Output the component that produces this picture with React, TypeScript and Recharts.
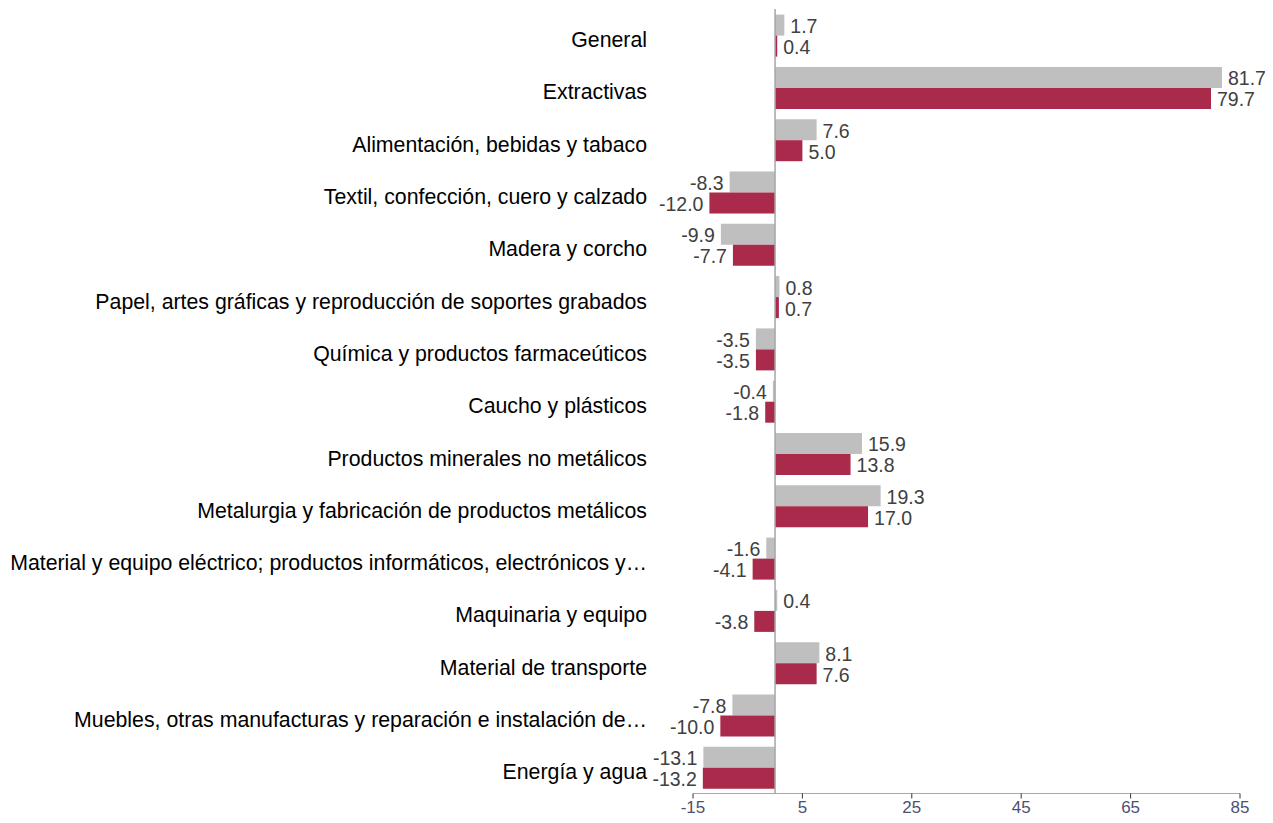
import React from "react";
import { BarChart, Bar, XAxis, YAxis, ReferenceLine, LabelList } from "recharts";

const categories = [
  "General",
  "Extractivas",
  "Alimentación, bebidas y tabaco",
  "Textil, confección, cuero y calzado",
  "Madera y corcho",
  "Papel, artes gráficas y reproducción de soportes grabados",
  "Química y productos farmaceúticos",
  "Caucho y plásticos",
  "Productos minerales no metálicos",
  "Metalurgia y fabricación de productos metálicos",
  "Material y equipo eléctrico; productos informáticos, electrónicos y…",
  "Maquinaria y equipo",
  "Material de transporte",
  "Muebles, otras manufacturas y reparación e instalación de…",
  "Energía y agua",
];

const seriesA = [1.7, 81.7, 7.6, -8.3, -9.9, 0.8, -3.5, -0.4, 15.9, 19.3, -1.6, 0.4, 8.1, -7.8, -13.1];
const seriesB = [0.4, 79.7, 5.0, -12.0, -7.7, 0.7, -3.5, -1.8, 13.8, 17.0, -4.1, -3.8, 7.6, -10.0, -13.2];

const xTicks = [-15, 5, 25, 45, 65, 85];

const data = categories.map((name, i) => ({ name, a: seriesA[i], b: seriesB[i] }));

const FONT = "'Liberation Sans', Arial, sans-serif";

const CategoryTick = (props: any) => {
  const { y, payload } = props;
  return (
    <text
      x={639}
      y={y}
      dy={5}
      textAnchor="end"
      dominantBaseline="central"
      fontFamily={FONT}
      fontSize={21.3}
      fill="#000000"
    >
      {payload.value}
    </text>
  );
};

const ValueLabel = (props: any) => {
  const { x, y, width, height, value } = props;
  const v = Number(value);
  const x1 = Number(x);
  const x2 = Number(x) + Number(width);
  const cy = Number(y) + Number(height) / 2 + 1;
  if (v >= 0) {
    const end = Math.max(x1, x2);
    return (
      <text x={end + 6} y={cy} dominantBaseline="central" textAnchor="start" fontFamily={FONT} fontSize={19.5} fill="#404040">
        {v.toFixed(1)}
      </text>
    );
  }
  const end = Math.min(x1, x2);
  return (
    <text x={end - 6} y={cy} dominantBaseline="central" textAnchor="end" fontFamily={FONT} fontSize={19.5} fill="#404040">
      {v.toFixed(1)}
    </text>
  );
};

export default function App() {
  return (
    <BarChart
      width={1265}
      height={815}
      data={data}
      layout="vertical"
      margin={{ top: 1, right: 33, left: 0, bottom: 0 }}
      barGap={0}
      barCategoryGap="10.7%"
    >
      <XAxis
        type="number"
        domain={[-15, 85]}
        ticks={xTicks}
        height={29.5}
        axisLine={{ stroke: "#a3a6c6" }}
        tickLine={{ stroke: "#333333" }}
        tickSize={5}
        tick={{ fontFamily: FONT, fontSize: 17, fill: "#4d5070" }}
        interval={0}
        allowDataOverflow
      />
      <YAxis
        type="category"
        dataKey="name"
        width={685}
        axisLine={false}
        tickLine={false}
        tick={<CategoryTick />}
        interval={0}
      />
      <Bar dataKey="a" fill="#bfbfbf" isAnimationActive={false}>
        <LabelList dataKey="a" content={<ValueLabel />} />
      </Bar>
      <Bar dataKey="b" fill="#a92a4a" isAnimationActive={false}>
        <LabelList dataKey="b" content={<ValueLabel />} />
      </Bar>
      <ReferenceLine x={0} stroke="#a6a6a6" strokeWidth={1.5} />
    </BarChart>
  );
}
